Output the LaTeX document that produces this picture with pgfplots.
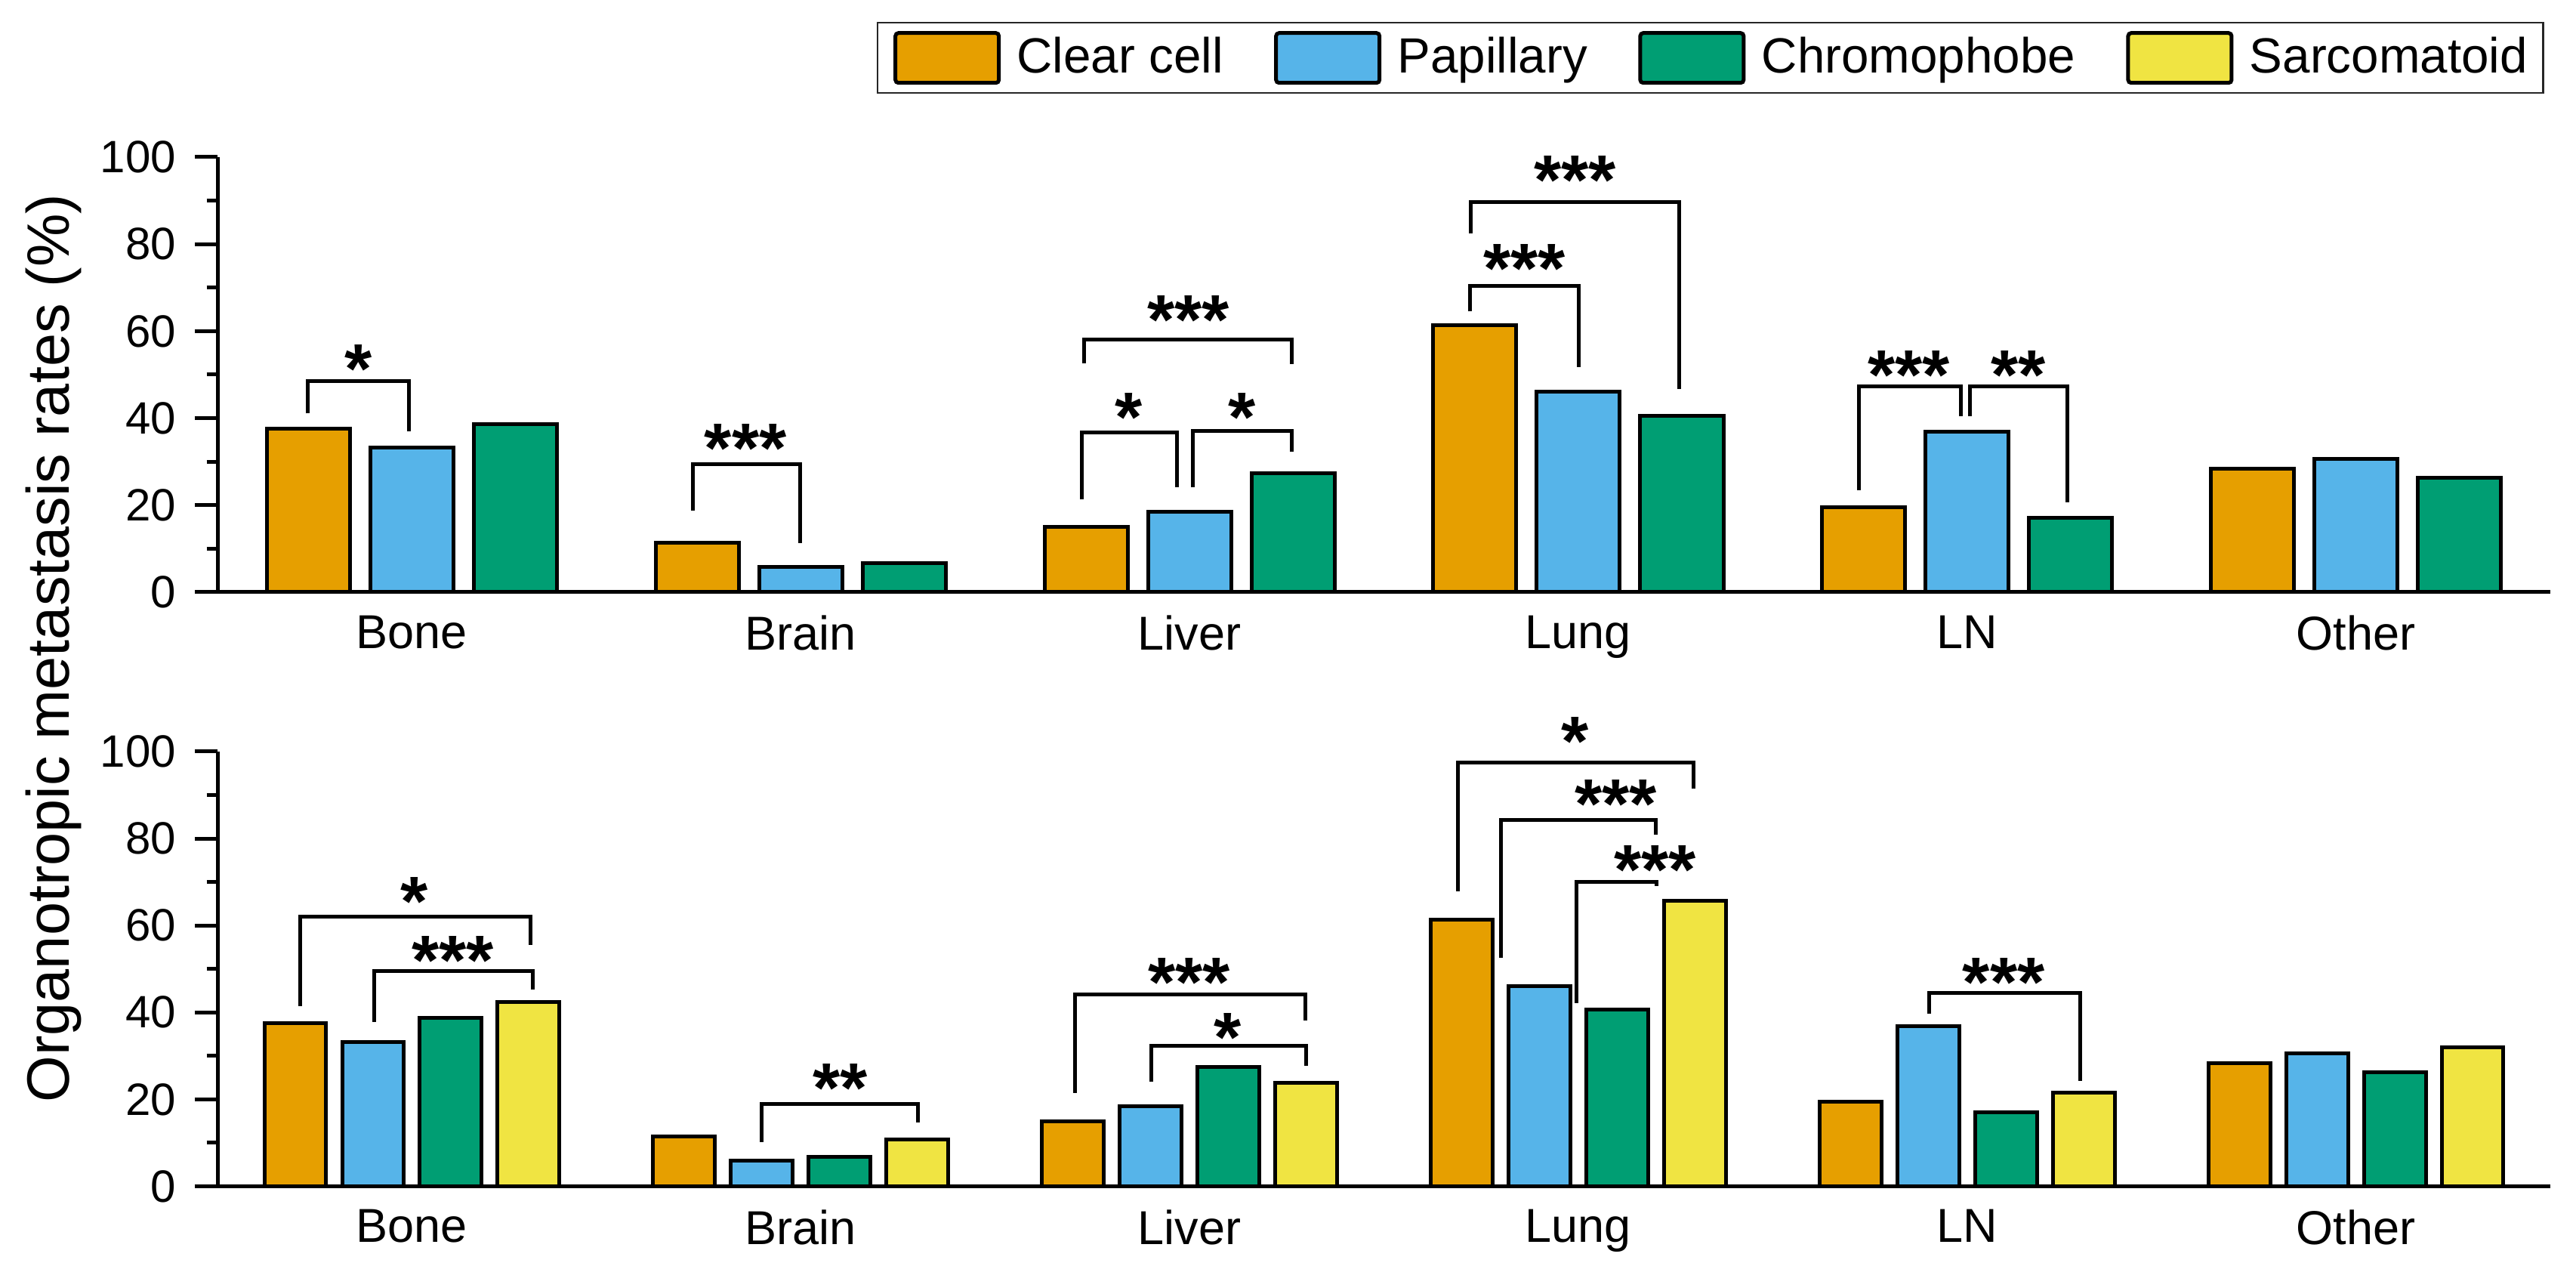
\documentclass[border=0pt]{standalone}
\usepackage{fontspec}
\setmainfont{Liberation Sans}
\usepackage{pgfplots}
\usepackage{pgfplotstable}
\pgfplotsset{compat=1.18}

\definecolor{cc}{HTML}{E69F00}
\definecolor{pap}{HTML}{56B4E9}
\definecolor{chr}{HTML}{009E73}
\definecolor{sar}{HTML}{F0E442}

% organotropic metastasis rates (%) per site
\pgfplotstableread{
x  cc    pap   chr   sar
0  37.5  33.2  38.7  42.4
1  11.4  5.9   6.7   10.7
2  15.0  18.5  27.4  23.8
3  61.3  46.1  40.6  65.6
4  19.5  36.9  17.1  21.6
5  28.4  30.6  26.3  32.0
}\rates

\pgfplotsset{
  organ/.style={
    scale only axis, width=617.8bp, height=115.2bp,
    xmin=-0.5, xmax=5.5, ymin=0, ymax=100,
    axis lines*=left, axis line style={line width=1bp},
    xtick={0,...,5}, xticklabels={Bone,Brain,Liver,Lung,LN,Other},
    xtick style={draw=none},
    ytick={0,20,...,100}, minor ytick={10,30,...,90},
    tick style={black, line width=1bp},
    tick align=outside, major tick length=6bp, minor tick length=2.9bp,
    tick label style={font=\fontsize{12bp}{14bp}\selectfont},
    /pgf/number format/assume math mode=true,
    yticklabel style={inner sep=0pt, xshift=-4.8bp},
    xticklabel style={inner sep=0pt, font=\fontsize{12.6bp}{14bp}\selectfont},
    clip=false,
  },
  bars/.style={ybar, draw=black, line width=1bp, fill=#1,
    legend image code/.code={\draw[fill=#1, draw=black, line width=1bp, rounded corners=0.8bp]
      (0.5bp,-6.6bp) rectangle (27.9bp,6.6bp);}},
}
\tikzset{
  brk/.style={line width=1bp},
  sigstar/.style={font=\fontsize{18.6bp}{20bp}\selectfont\bfseries, anchor=base,
    inner sep=0pt, yshift=-10.6bp},
}

% xL, xR, yL, yH, yR, x of stars, y of stars, stars
\newcommand\brk[8]{\draw[brk] (axis cs:#1,#3) |- (axis cs:#2,#4) -- (axis cs:#2,#5);
  \node[sigstar] at (axis cs:#6,#7) {#8};}

\begin{document}
\begin{tikzpicture}
\useasboundingbox (0,0) rectangle (682.2bp,335.2bp);

% upper panel: three subtypes
\begin{axis}[organ, at={(57.6bp,178.4bp)}, anchor=south west]
  \addplot[bars=cc,  bar width=0.2138, bar shift=-0.2662] table[x=x, y=cc]  {\rates};
  \addplot[bars=pap, bar width=0.2138, bar shift=0]       table[x=x, y=pap] {\rates};
  \addplot[bars=chr, bar width=0.2138, bar shift=0.2662]  table[x=x, y=chr] {\rates};
  \brk{-0.267}{-0.008}{41.1}{48.6}{37.0}{-0.138}{55.0}{*}
  \brk{0.722}{0.998}{18.8}{29.5}{11.3}{0.858}{36.8}{***}
  \brk{1.723}{1.968}{21.3}{36.8}{24.1}{1.844}{43.8}{*}
  \brk{2.009}{2.263}{24.1}{37.1}{32.3}{2.135}{43.8}{*}
  \brk{1.729}{2.263}{52.6}{58.0}{52.4}{1.997}{66.3}{***}
  \brk{2.722}{3.002}{64.5}{70.4}{51.7}{2.861}{78.0}{***}
  \brk{2.724}{3.260}{82.4}{89.6}{46.7}{2.992}{98.4}{***}
  \brk{3.721}{3.983}{23.4}{47.3}{40.5}{3.850}{53.5}{***}
  \brk{4.008}{4.257}{40.5}{47.3}{20.6}{4.131}{53.5}{**}
\end{axis}

% lower panel: with sarcomatoid
\begin{axis}[organ, height=115.1bp, at={(57.6bp,21.1bp)}, anchor=south west,
    legend columns=4, legend cell align=left,
    legend style={at={(axis description cs:0.2826,2.6786)}, anchor=north west,
      draw=black!85, line width=0.5bp, inner xsep=4.2bp, inner ysep=2.2bp,
      font=\fontsize{13.1bp}{15bp}\selectfont, nodes={inner sep=0pt},
      /tikz/every odd column/.append style={column sep=4.3bp},
      /tikz/every even column/.append style={column sep=13.5bp}}]
  \addplot[bars=cc,  bar width=0.159, bar shift=-0.3] table[x=x, y=cc]  {\rates};
  \addlegendentry{Clear cell}
  \addplot[bars=pap, bar width=0.159, bar shift=-0.1] table[x=x, y=pap] {\rates};
  \addlegendentry{Papillary}
  \addplot[bars=chr, bar width=0.159, bar shift=0.1]  table[x=x, y=chr] {\rates};
  \addlegendentry{Chromophobe}
  \addplot[bars=sar, bar width=0.159, bar shift=0.3]  table[x=x, y=sar] {\rates};
  \addlegendentry{Sarcomatoid}
  \brk{-0.288}{0.305}{41.5}{62.0}{55.6}{0.007}{69.2}{*}
  \brk{-0.096}{0.310}{37.8}{49.6}{45.3}{0.105}{55.6}{***}
  \brk{0.899}{1.301}{10.2}{19.0}{14.7}{1.101}{26.2}{**}
  \brk{1.706}{2.297}{21.5}{44.1}{38.1}{1.999}{50.6}{***}
  \brk{1.902}{2.300}{24.1}{32.4}{27.7}{2.098}{37.8}{*}
  \brk{2.690}{3.297}{67.9}{97.5}{91.5}{2.992}{106.0}{*}
  \brk{2.801}{3.199}{52.5}{84.3}{80.9}{3.096}{91.6}{***}
  \brk{2.996}{3.201}{42.2}{70.1}{69.1}{3.197}{76.5}{***}
  \brk{3.903}{4.291}{39.7}{44.4}{24.2}{4.094}{50.6}{***}
\end{axis}

\node[rotate=90, inner sep=0pt, font=\fontsize{15.85bp}{18bp}\selectfont]
  at (14.3bp,163.6bp) {Organotropic metastasis rates (\%)};
\end{tikzpicture}
\end{document}
